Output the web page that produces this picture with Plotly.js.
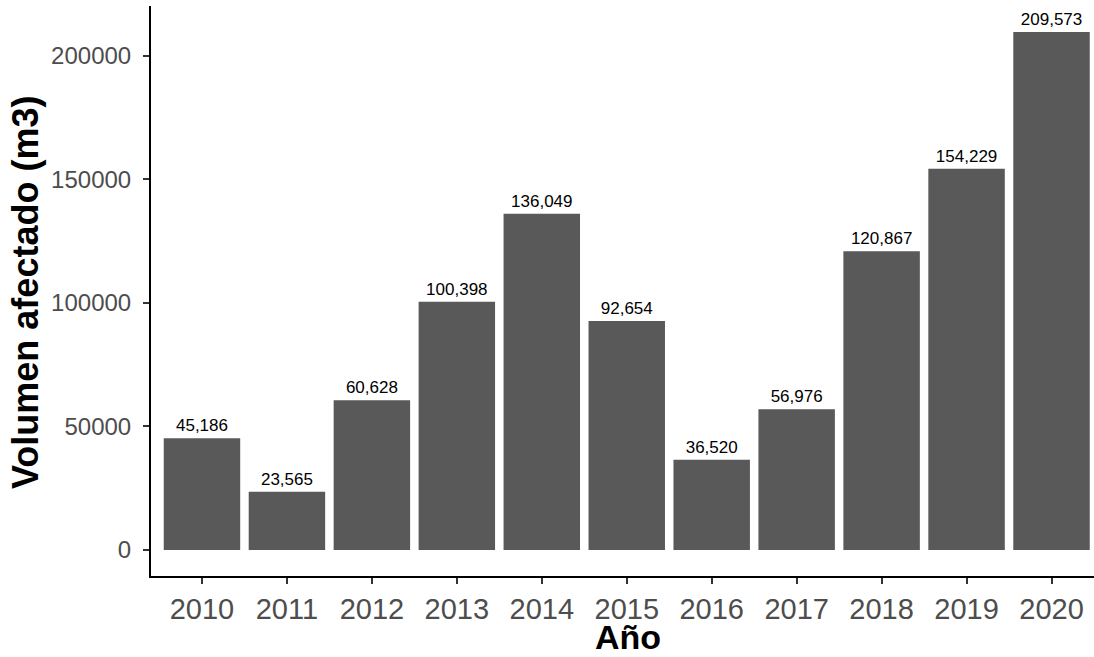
<!DOCTYPE html>
<html>
<head>
<meta charset="utf-8">
<script src="https://cdn.plot.ly/plotly-3.0.1.min.js"></script>
<style>html,body{margin:0;padding:0;background:#fff;}#chart{width:1094px;height:657px;}</style>
</head>
<body>
<div id="chart"></div>
<script>
const years = ['2010','2011','2012','2013','2014','2015','2016','2017','2018','2019','2020'];
const volumes = [45186, 23565, 60628, 100398, 136049, 92654, 36520, 56976, 120867, 154229, 209573];
const yTicks = [0, 50000, 100000, 150000, 200000];
const xTitle = 'Año';
const yTitle = 'Volumen afectado (m3)';

const maxV = Math.max(...volumes);
const pad = maxV * 0.05;

const trace = {
  type: 'bar',
  x: years,
  y: volumes,
  width: 0.9,
  marker: {color: '#595959', line: {width: 0}},
  text: volumes.map(v => v.toLocaleString('en-US')),
  textposition: 'outside',
  textfont: {family: 'Liberation Sans, Arial, sans-serif', size: 17, color: '#000'},
  cliponaxis: false,
  hoverinfo: 'skip'
};

const layout = {
  width: 1094,
  height: 657,
  margin: {l: 150.5, r: 0, t: 6, b: 81},
  paper_bgcolor: '#fff',
  plot_bgcolor: '#fff',
  showlegend: false,
  font: {family: 'Liberation Sans, Arial, sans-serif'},
  xaxis: {
    type: 'category',
    range: [-0.6, 10.5],
    showgrid: false,
    zeroline: false,
    showline: true,
    linecolor: '#000',
    linewidth: 2,
    ticks: 'outside',
    ticklen: 6,
    tickwidth: 2,
    tickcolor: '#333',
    tickfont: {size: 29, color: '#4D4D4D'}
  },
  yaxis: {
    range: [-pad, maxV + pad],
    tickvals: yTicks,
    ticktext: yTicks.map(String),
    showgrid: false,
    zeroline: false,
    showline: true,
    linecolor: '#000',
    linewidth: 2,
    ticks: 'outside',
    ticklen: 6,
    tickwidth: 2,
    tickcolor: '#333',
    ticklabelstandoff: 7,
    tickfont: {size: 24, color: '#4D4D4D'}
  },
  annotations: [
    {
      text: '<b>' + xTitle + '</b>',
      xref: 'paper', yref: 'paper', x: 0.5, y: 0,
      xanchor: 'center', yanchor: 'bottom',
      xshift: 5, yshift: -81,
      borderpad: 0,
      showarrow: false,
      font: {size: 34, color: '#000'}
    },
    {
      text: '<b>' + yTitle + '</b>',
      xref: 'paper', yref: 'paper', x: 0, y: 0.5,
      xanchor: 'center', yanchor: 'middle',
      xshift: -126, yshift: -2,
      textangle: -90,
      showarrow: false,
      font: {size: 36, color: '#000'}
    }
  ],
  bargap: 0.1
};

Plotly.newPlot('chart', [trace], layout, {displayModeBar: false, staticPlot: true});
</script>
</body>
</html>
